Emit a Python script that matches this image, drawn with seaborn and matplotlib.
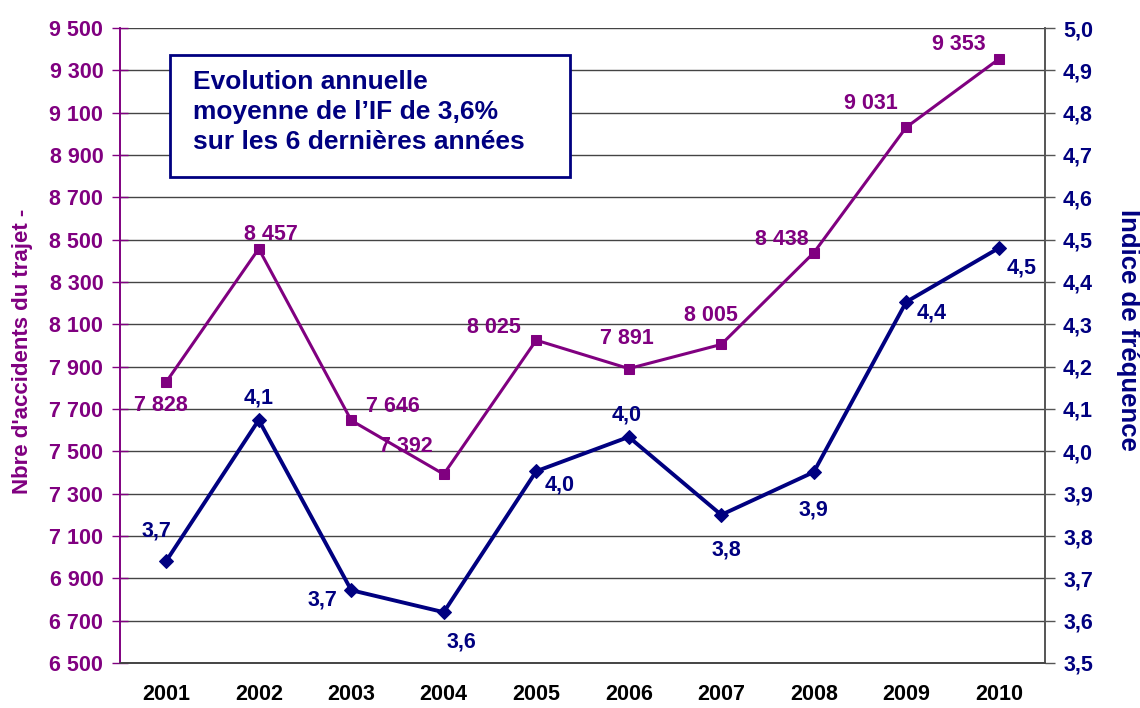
import matplotlib
matplotlib.use("Agg")
import matplotlib.pyplot as plt
import seaborn as sns
import pandas as pd
import numpy as np
from matplotlib.patches import Rectangle

years = ["2001", "2002", "2003", "2004", "2005", "2006", "2007", "2008", "2009", "2010"]
accidents = [7828, 8457, 7646, 7392, 8025, 7891, 8005, 8438, 9031, 9353]
indice = [3.741, 4.074, 3.672, 3.620, 3.953, 4.034, 3.850, 3.951, 4.353, 4.480]
indice_labels = ["3,7", "4,1", "3,7", "3,6", "4,0", "4,0", "3,8", "3,9", "4,4", "4,5"]
acc_label_offsets = [(-5, -24), (12, 14), (42, 14), (-38, 28), (-42, 13), (-2, 30), (-10, 29), (-32, 13), (-35, 24), (-40, 15)]
ind_label_offsets = [(-10, 30), (0, 22), (-29, -10), (18, -30), (23, -14), (-2, 22), (5, -35), (0, -38), (25, -11), (23, -20)]

PURPLE = "#800080"
NAVY = "#000080"

sns.set_theme(style="white")
plt.rcParams["font.family"] = ["Liberation Sans", "DejaVu Sans"]
plt.rcParams["font.weight"] = "bold"

df = pd.DataFrame({"pos": np.arange(len(years)), "year": years,
                   "accidents": accidents, "indice": indice})

fig = plt.figure(figsize=(11.4, 7.08), dpi=100)
ax = fig.add_axes([120/1140, 1-663/708, 925/1140, 635/708])
ax2 = ax.twinx()

sns.lineplot(data=df, x="pos", y="accidents", ax=ax, color=PURPLE, lw=2.2,
             marker="s", markersize=7, markeredgecolor=PURPLE, zorder=4)
sns.lineplot(data=df, x="pos", y="indice", ax=ax2, color=NAVY, lw=2.8,
             marker="D", markersize=7, markeredgecolor=NAVY, zorder=4)

ax.set_xlim(-0.5, len(years) - 0.5)
ax.set_ylim(6500, 9500)
ax2.set_ylim(3.5, 5.0)
ax.set_yticks(np.arange(6500, 9501, 200))
ax.set_yticklabels([f"{v:,}".replace(",", " ") for v in range(6500, 9501, 200)],
                   color=PURPLE, fontsize=15.5, fontweight="bold")
rt = np.round(np.arange(3.5, 5.001, 0.1), 1)
ax2.set_yticks(rt)
ax2.set_yticklabels([f"{v:.1f}".replace(".", ",") for v in rt],
                    color=NAVY, fontsize=15.5, fontweight="bold")

ax.set_xticks(np.arange(len(years)))
ax.set_xticklabels(years, fontsize=15.5, fontweight="bold", color="black")
ax.set_xticks(np.arange(len(years) + 1) - 0.5, minor=True)
ax.tick_params(axis="x", which="major", length=0, pad=15)
ax.tick_params(axis="x", which="minor", direction="out", length=8, color="#333333", width=1)
ax.tick_params(axis="y", direction="inout", length=12, color=PURPLE, width=1, pad=6)
ax2.tick_params(axis="y", direction="out", length=7, color="#555555", width=1, pad=6)

ax.grid(axis="y", color="#444444", lw=1)
ax.set_axisbelow(True)

for a in (ax, ax2):
    a.spines["top"].set_visible(False)
    a.spines["bottom"].set_color("#444444")
    a.spines["right"].set_color("#555555")
    a.spines["left"].set_color(PURPLE)
    for s in a.spines.values():
        s.set_linewidth(1.2)

ax.set_xlabel("")
ax.set_ylabel("Nbre d'accidents du trajet -", color=PURPLE, fontsize=16, fontweight="bold")
ax.yaxis.set_label_coords(-0.094, 0.49)
ax2.set_ylabel("Indice de fréquence", color=NAVY, fontsize=18.5, fontweight="bold",
               rotation=-90, va="center")
ax2.yaxis.set_label_coords(1.09, 0.525)

for i, (v, off) in enumerate(zip(accidents, acc_label_offsets)):
    ax.annotate(f"{v:,}".replace(",", " "), (i, v), xytext=off, textcoords="offset pixels",
                ha="center", va="center", color=PURPLE, fontsize=15.5, fontweight="bold", zorder=6)
for i, (v, lab, off) in enumerate(zip(indice, indice_labels, ind_label_offsets)):
    ax2.annotate(lab, (i, v), xytext=off, textcoords="offset pixels",
                 ha="center", va="center", color=NAVY, fontsize=15.5, fontweight="bold", zorder=6)

box = Rectangle((50/925, (663-177)/635), 400/925, 122/635, transform=ax.transAxes,
                facecolor="white", edgecolor=NAVY, lw=2, zorder=5)
ax2.add_patch(box)
ax2.text(73/925, (663-112)/635, "Evolution annuelle\nmoyenne de l\u2019IF de 3,6%\nsur les 6 dernières années",
         transform=ax.transAxes, ha="left", va="center", color=NAVY, fontsize=19,
         fontweight="bold", linespacing=1.3, zorder=6)

fig.savefig("out.png", dpi=100)
